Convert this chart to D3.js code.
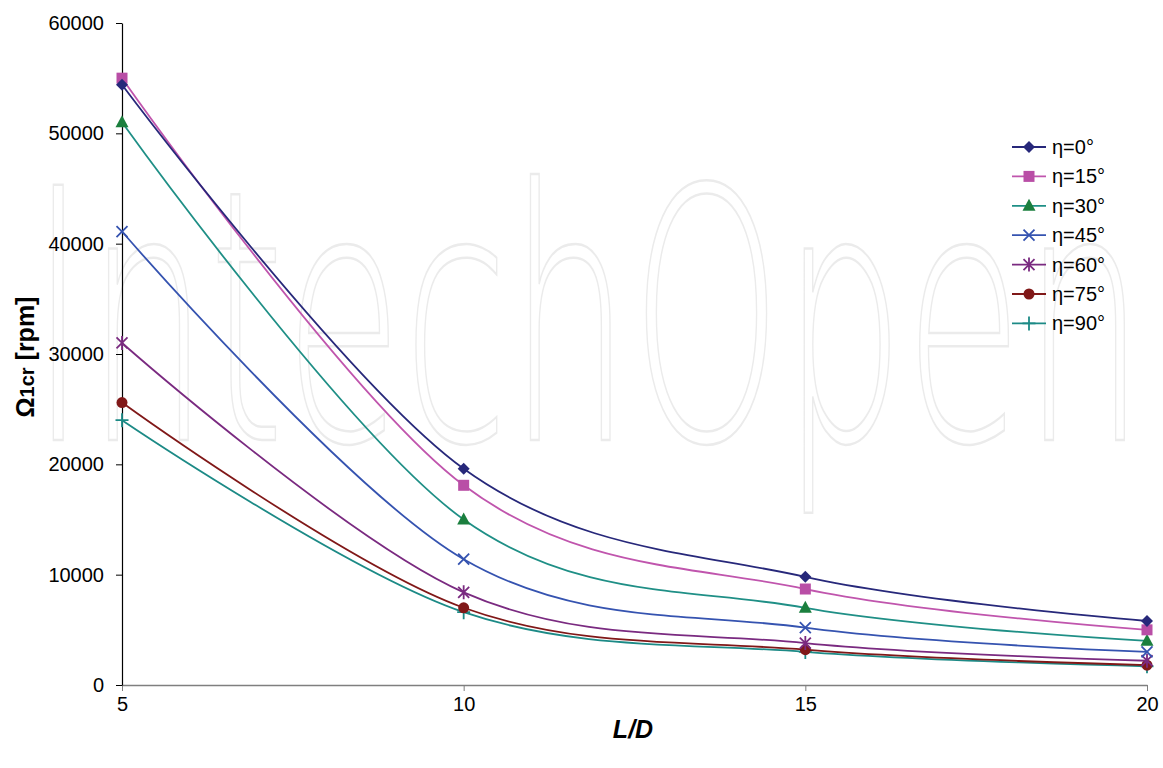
<!DOCTYPE html>
<html>
<head>
<meta charset="utf-8">
<script src="https://cdn.jsdelivr.net/npm/d3@7"></script>
<style>
  body { margin: 0; background: #fff; }
  svg { font-family: Arial, "Liberation Sans", sans-serif; }
</style>
</head>
<body>
<div id="chart"></div>
<script>
// data
const ratios = [5, 10, 15, 20];
const eta0  = [54400, 19600, 9800, 5800];
const eta15 = [55000, 18100, 8700, 5000];
const eta30 = [51000, 15000, 7000, 4000];
const eta45 = [41100, 11400, 5200, 3000];
const eta60 = [31000, 8400, 3800, 2200];
const eta75 = [25600, 7000, 3200, 1800];
const eta90 = [24000, 6600, 3000, 1700];
const seriesNames = ['η=0°', 'η=15°', 'η=30°', 'η=45°', 'η=60°', 'η=75°', 'η=90°'];
const yTicks = [0, 10000, 20000, 30000, 40000, 50000, 60000];

const width = 1163, height = 768;
const margin = {left: 122, right: 16, top: 23, bottom: 83};

const series = [
  {name: seriesNames[0], values: eta0,  line: '#27287a', fill: '#27287a', marker: 'diamond'},
  {name: seriesNames[1], values: eta15, line: '#c055ad', fill: '#b94ea6', marker: 'square'},
  {name: seriesNames[2], values: eta30, line: '#1f8f86', fill: '#1b7f3e', marker: 'triangle'},
  {name: seriesNames[3], values: eta45, line: '#3553b0', fill: '#3553b0', marker: 'x'},
  {name: seriesNames[4], values: eta60, line: '#7a2a80', fill: '#7a2a80', marker: 'star'},
  {name: seriesNames[5], values: eta75, line: '#801818', fill: '#801818', marker: 'circle'},
  {name: seriesNames[6], values: eta90, line: '#1c8a86', fill: '#1c8a86', marker: 'plus'}
];

const svg = d3.select('#chart').append('svg')
  .attr('width', width).attr('height', height);

// faint watermark behind the chart
svg.append('text')
  .attr('x', 30).attr('y', 440)
  .attr('textLength', 1115)
  .attr('lengthAdjust', 'spacingAndGlyphs')
  .style('font-family', '"DejaVu Sans", sans-serif')
  .style('font-weight', 200)
  .style('font-size', '350px')
  .attr('fill', 'none')
  .attr('stroke', '#ebebeb')
  .attr('stroke-width', 2.5)
  .text('IntechOpen');

const x = d3.scaleLinear().domain([5, 20]).range([margin.left, width - margin.right]);
const y = d3.scaleLinear().domain([0, 60000]).range([height - margin.bottom, margin.top]);

// x axis
const xAxis = svg.append('g')
  .attr('transform', `translate(0,${y(0)})`)
  .call(d3.axisBottom(x).tickValues(ratios).tickSize(6).tickSizeOuter(0).tickPadding(6));
xAxis.select('.domain').attr('stroke', '#7f7f7f').attr('stroke-width', 1.5);
xAxis.selectAll('.tick line').attr('stroke', '#7f7f7f');
xAxis.selectAll('text').style('font-size', '20px').attr('fill', '#000');

// y axis
const yAxis = svg.append('g')
  .attr('transform', `translate(${x(5)},0)`)
  .call(d3.axisLeft(y).tickValues(yTicks).tickFormat(d3.format('d')).tickSize(6).tickSizeOuter(0).tickPadding(12));
yAxis.select('.domain').attr('stroke', '#000').attr('stroke-width', 1.2);
yAxis.selectAll('text').style('font-size', '20px').attr('fill', '#000');

// axis titles
const yTitle = svg.append('text')
  .attr('transform', 'translate(34,357) rotate(-90)')
  .attr('text-anchor', 'middle')
  .style('font-weight', 'bold')
  .style('font-size', '25px');
yTitle.append('tspan').text('Ω');
yTitle.append('tspan').style('font-size', '20px').text('1cr');
yTitle.append('tspan').text(' [rpm]');

svg.append('text')
  .attr('x', 633).attr('y', 738)
  .attr('text-anchor', 'middle')
  .style('font-weight', 'bold')
  .style('font-style', 'italic')
  .style('font-size', '25px')
  .text('L/D');

const line = d3.line()
  .x((d, i) => x(ratios[i]))
  .y(d => y(d))
  .curve(d3.curveCatmullRom.alpha(0));

function drawMarker(g, type, cx, cy, s) {
  if (type === 'diamond') {
    g.append('path').attr('d', `M${cx},${cy - 6}L${cx + 6},${cy}L${cx},${cy + 6}L${cx - 6},${cy}Z`).attr('fill', s.fill);
  } else if (type === 'square') {
    g.append('rect').attr('x', cx - 5.5).attr('y', cy - 5.5).attr('width', 11).attr('height', 11).attr('fill', s.fill);
  } else if (type === 'triangle') {
    g.append('path').attr('d', `M${cx},${cy - 7}L${cx + 6.5},${cy + 5}L${cx - 6.5},${cy + 5}Z`).attr('fill', s.fill);
  } else if (type === 'x') {
    g.append('path').attr('d', `M${cx - 5.5},${cy - 5.5}L${cx + 5.5},${cy + 5.5}M${cx - 5.5},${cy + 5.5}L${cx + 5.5},${cy - 5.5}`)
      .attr('stroke', s.fill).attr('stroke-width', 1.8);
  } else if (type === 'star') {
    g.append('path').attr('d', `M${cx - 5.5},${cy - 5.5}L${cx + 5.5},${cy + 5.5}M${cx - 5.5},${cy + 5.5}L${cx + 5.5},${cy - 5.5}M${cx},${cy - 7}L${cx},${cy + 7}`)
      .attr('stroke', s.fill).attr('stroke-width', 1.8);
  } else if (type === 'circle') {
    g.append('circle').attr('cx', cx).attr('cy', cy).attr('r', 5.5).attr('fill', s.fill);
  } else if (type === 'plus') {
    g.append('path').attr('d', `M${cx - 6.5},${cy}L${cx + 6.5},${cy}M${cx},${cy - 7}L${cx},${cy + 7}`)
      .attr('stroke', s.fill).attr('stroke-width', 1.8);
  }
}

// lines drawn back to front so eta=0 sits on top
series.slice().reverse().forEach(s => {
  svg.append('path')
    .datum(s.values)
    .attr('d', line)
    .attr('fill', 'none')
    .attr('stroke', s.line)
    .attr('stroke-width', 1.8);
  const g = svg.append('g');
  s.values.forEach((v, i) => drawMarker(g, s.marker, x(ratios[i]), y(v), s));
});

// legend
const legend = svg.append('g').attr('transform', 'translate(1012,147)');
series.forEach((s, i) => {
  const row = legend.append('g').attr('transform', `translate(0,${i * 29.4})`);
  row.append('line').attr('x1', 0).attr('x2', 34).attr('y1', 0).attr('y2', 0)
    .attr('stroke', s.line).attr('stroke-width', 1.8);
  drawMarker(row, s.marker, 17, 0, s);
  row.append('text').attr('x', 40).attr('y', 7)
    .style('font-size', '20px')
    .text(s.name);
});
</script>
</body>
</html>
